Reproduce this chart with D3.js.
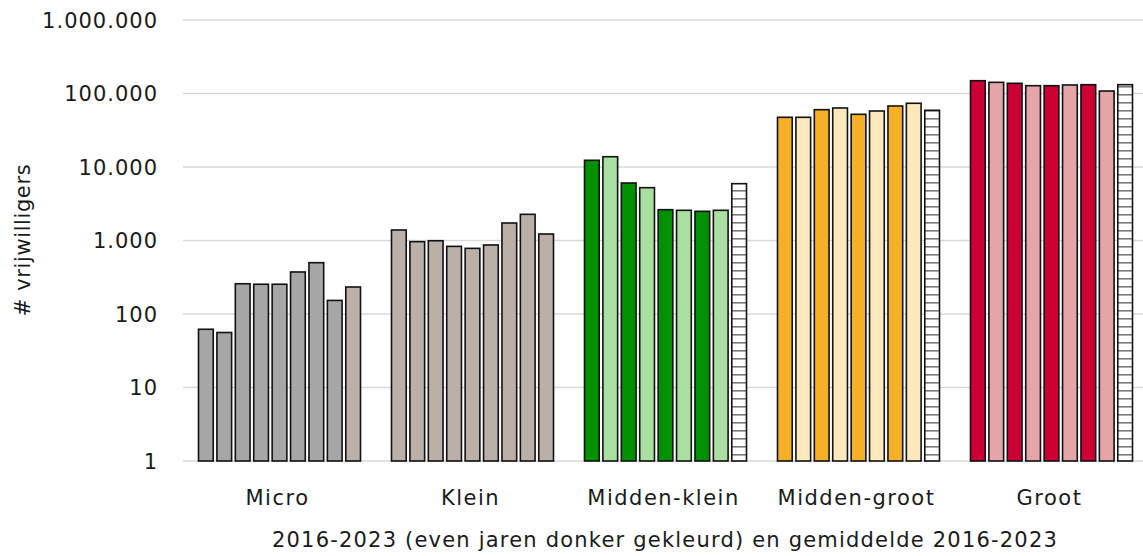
<!DOCTYPE html>
<html>
<head>
<meta charset="utf-8">
<script src="https://cdn.jsdelivr.net/npm/d3@7"></script>
<style>
  html, body { margin: 0; padding: 0; background: #fff; }
  svg { display: block; }
  text { font-family: "DejaVu Sans", "Noto Sans", sans-serif; fill: #1a1a1a; }
</style>
</head>
<body>
<svg id="chart" width="1143" height="556"></svg>
<script>
// ---- data ----
const categories = ["Micro", "Klein", "Midden-klein", "Midden-groot", "Groot"];
const series = ["2016", "2017", "2018", "2019", "2020", "2021", "2022", "2023", "Gemiddelde 2016-2023"];
const micro       = [62, 56, 258, 254, 254, 373, 499, 153, 233];
const klein       = [1390, 964, 993, 832, 782, 869, 1730, 2270, 1226];
const middenKlein = [12340, 13800, 6060, 5230, 2625, 2575, 2495, 2575, 5930];
const middenGroot = [47450, 47450, 60240, 63530, 52100, 57800, 67600, 73600, 59050];
const groot       = [149300, 141900, 137600, 127700, 127700, 130600, 131800, 108100, 131800];
const yTicks = [1, 10, 100, 1000, 10000, 100000, 1000000];
const yTickLabels = ["1", "10", "100", "1.000", "10.000", "100.000", "1.000.000"];
const yTitle = "# vrijwilligers";
const xTitle = "2016-2023 (even jaren donker gekleurd) en gemiddelde 2016-2023";

// colours per category: [even (dark), odd (light), mean]
const palette = {
  "Micro":        ["#a6a6a6", "#a6a6a6", "#bbb0a8"],
  "Klein":        ["#bbb0a8", "#bbb0a8", "#bbb0a8"],
  "Midden-klein": ["#009100", "#a9dfa1", "hatch"],
  "Midden-groot": ["#f6b027", "#fde8bb", "hatch"],
  "Groot":        ["#cc0033", "#e3a5a8", "hatch"]
};

const valuesByCat = [micro, klein, middenKlein, middenGroot, groot];
const rows = [];
categories.forEach((c, ci) => {
  valuesByCat[ci].forEach((v, si) => {
    rows.push({ cat: c, s: series[si], si, v });
  });
});

// ---- layout ----
const svg = d3.select("#chart");
const x0 = d3.scaleBand().domain(categories).range([183, 1148]).paddingInner(0).paddingOuter(0);
const x1 = d3.scaleBand().domain(series).range([15.5, x0.bandwidth() - 15.5]).paddingInner(0.2).paddingOuter(0);
const y = d3.scaleLog().domain([1, 1000000]).range([461, 20]);

// hatch pattern
const defs = svg.append("defs");
const pat = defs.append("pattern")
  .attr("id", "hatch").attr("patternUnits", "userSpaceOnUse")
  .attr("width", 8).attr("height", 8);
pat.append("rect").attr("width", 8).attr("height", 8).attr("fill", "#fff");
pat.append("rect").attr("x", 0).attr("y", 6).attr("width", 8).attr("height", 1.6).attr("fill", "#7a7a7a");

// gridlines
svg.append("g").selectAll("line").data(yTicks).join("line")
  .attr("x1", 183).attr("x2", 1143)
  .attr("y1", d => y(d)).attr("y2", d => y(d))
  .attr("stroke", "#d9d9d9").attr("stroke-width", 1.5);

const yAxis = d3.axisLeft(y).tickValues(yTicks).tickFormat((d, i) => yTickLabels[i])
  .tickSize(0).tickPadding(0);
const gy = svg.append("g").attr("transform", "translate(157,0)").call(yAxis);
gy.select(".domain").remove();
gy.selectAll("text").attr("font-family", null).style("font-size", "21px").style("letter-spacing", "1px")
  .attr("dx", "1px").attr("dy", "0.35em").attr("fill", "#1a1a1a");

// bars
svg.append("g").selectAll("rect").data(rows).join("rect")
  .attr("x", d => x0(d.cat) + x1(d.s))
  .attr("width", x1.bandwidth())
  .attr("y", d => y(d.v))
  .attr("height", d => y(1) - y(d.v))
  .attr("fill", d => {
    const p = palette[d.cat];
    const c = d.si === 8 ? p[2] : (d.si % 2 === 0 ? p[0] : p[1]);
    return c === "hatch" ? "url(#hatch)" : c;
  })
  .attr("stroke", "#111").attr("stroke-width", 1.6);

// x axis labels
const xAxis = d3.axisBottom(x0).tickSize(0).tickPadding(0);
const gx = svg.append("g").attr("transform", "translate(-2,498)").call(xAxis);
gx.select(".domain").remove();
gx.selectAll("text").attr("font-family", null).style("font-size", "21px").style("letter-spacing", "1.5px")
  .attr("dy", "0.35em").attr("fill", "#1a1a1a");

// axis titles
svg.append("text").attr("x", 665).attr("y", 547).attr("text-anchor", "middle")
  .style("font-size", "21px").style("letter-spacing", "1.2px").text(xTitle);
svg.append("text").attr("transform", "translate(30,240) rotate(-90)").attr("text-anchor", "middle")
  .style("font-size", "21px").style("letter-spacing", "0.6px").text(yTitle);
</script>
</body>
</html>
